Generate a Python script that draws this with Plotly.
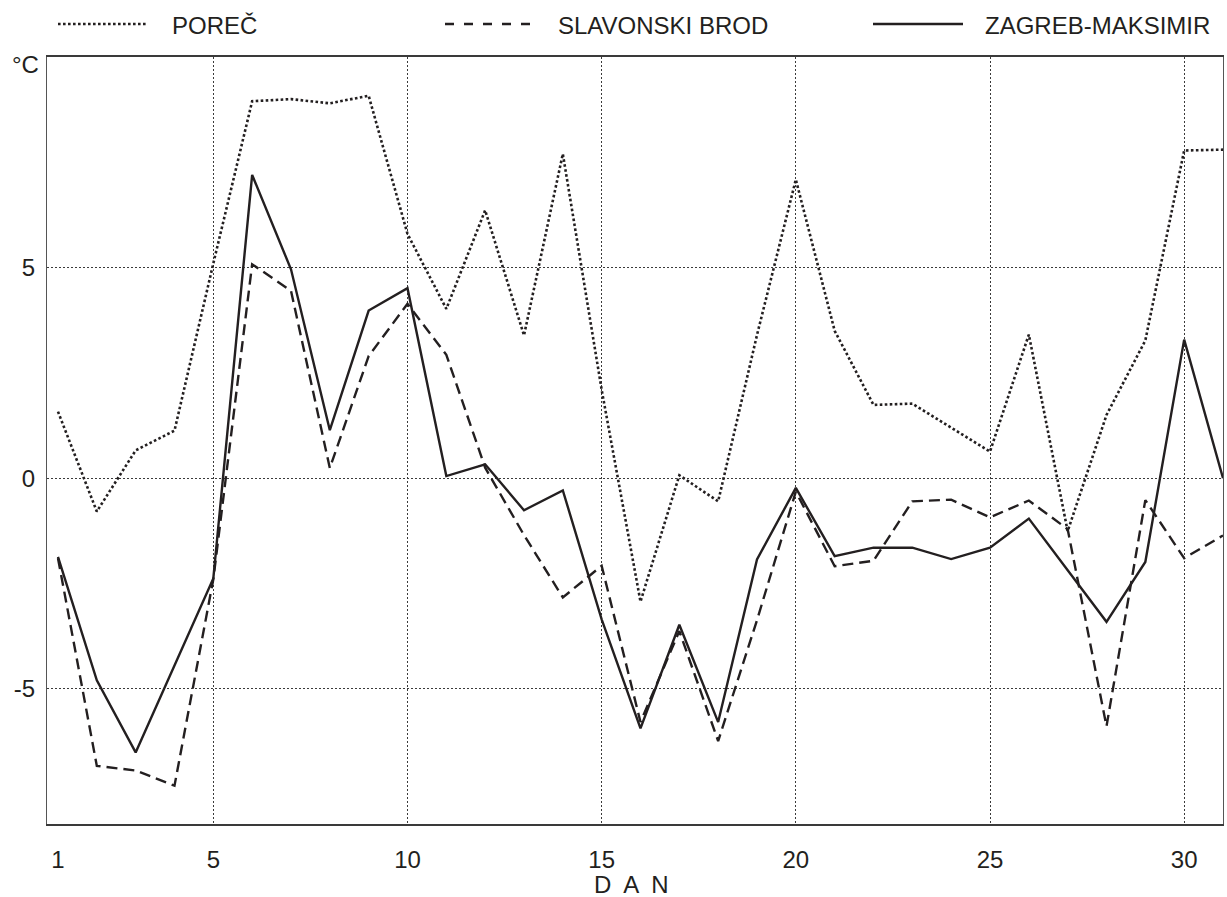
import plotly.graph_objects as go

# ---- data ----
days = list(range(1, 32))
porec = [1.58, -0.79, 0.66, 1.13, 5.1, 8.95, 9.0, 8.9, 9.08, 5.8,
         4.02, 6.36, 3.39, 7.70, 2.1, -2.93, 0.07, -0.55, 3.4, 7.09,
         3.5, 1.74, 1.77, 1.2, 0.63, 3.41, -1.26, 1.5, 3.27, 7.78, 7.8]
slavonski_brod = [-1.9, -6.83, -6.94, -7.30, -2.4, 5.08, 4.45, 0.24, 2.9, 4.14,
                  2.93, 0.25, -1.35, -2.83, -2.08, -5.79, -3.63, -6.24, -3.37, -0.32,
                  -2.09, -1.96, -0.55, -0.51, -0.93, -0.53, -1.21, -5.89, -0.52, -1.90, -1.36]
zagreb_maksimir = [-1.87, -4.80, -6.51, -4.45, -2.38, 7.20, 4.96, 1.14, 3.98, 4.51,
                   0.05, 0.33, -0.76, -0.29, -3.35, -5.94, -3.48, -5.79, -1.93, -0.23,
                   -1.85, -1.65, -1.65, -1.92, -1.65, -0.96, -2.2, -3.41, -1.99, 3.29, 0.0]

series_names = ["POREČ", "SLAVONSKI BROD", "ZAGREB-MAKSIMIR"]
x_tick_vals = [1, 5, 10, 15, 20, 25, 30]
x_grid_vals = [5, 10, 15, 20, 25, 30]
y_tick_vals = [-5, 0, 5]
y_tick_text = ["-5", "0", "5"]
x_title = "D\u2002A\u2002N"
y_unit = "°C"

# ---- styles ----
INK = "#231f20"
FONT = "Liberation Sans, Arial, Helvetica, sans-serif"
W, H = 1227, 897
# target plot box in page pixels: left 47, right 1223, top 57, bottom 824
ML, MT = 47, 57
MR = W - 1223
MB = H - 824
styles = [
    dict(color=INK, width=2.6, dash="2.6px,2.4px"),
    dict(color=INK, width=2.4, dash="11px,6px"),
    dict(color=INK, width=2.4, dash="solid"),
]

fig = go.Figure()
# invisible trace on the grid axis so it is rendered (drawn first, below data)
fig.add_trace(go.Scatter(x=[days[0]], y=[0], xaxis="x2", mode="markers",
                         marker=dict(opacity=0), showlegend=False, hoverinfo="skip"))
for name, vals, st in zip(series_names, [porec, slavonski_brod, zagreb_maksimir], styles):
    fig.add_trace(go.Scatter(x=days, y=vals, mode="lines", name=name,
                             line=st, showlegend=False))

xr = [0.717, 31]
yr = [-8.21, 10]

fig.update_layout(
    width=W, height=H,
    margin=dict(l=ML, r=MR, t=MT, b=MB),
    paper_bgcolor="white", plot_bgcolor="white",
    font=dict(family=FONT, size=24, color=INK),
    xaxis=dict(range=xr, tickvals=x_tick_vals, ticktext=[str(v) for v in x_tick_vals],
               showgrid=False, zeroline=False, ticks="", ticklabelstandoff=13,
               showline=True, linecolor="#3a3a3a", linewidth=1.5, mirror=True,
               tickfont=dict(size=24, family=FONT, color=INK)),
    xaxis2=dict(range=xr, overlaying="x", tickvals=x_grid_vals, showticklabels=False,
                showgrid=True, gridcolor="#3a3a3a", gridwidth=1, griddash="2px,2px",
                zeroline=False, ticks="", showline=False),
    yaxis=dict(range=yr, tickvals=y_tick_vals, ticktext=y_tick_text,
               showgrid=True, gridcolor="#3a3a3a", gridwidth=1, griddash="2px,2px",
               zeroline=False, ticks="", ticklabelstandoff=6,
               showline=True, linecolor="#555555", linewidth=1.2, mirror=True,
               tickfont=dict(size=24, family=FONT, color=INK)),
)


def px_x(px):
    return (px - ML) / (W - ML - MR)


def px_y(py):
    return (H - MB - py) / (H - MT - MB)


# manual legend across the top (page pixel positions)
legend_items = [(58, 148, 170), (445, 535, 556), (873, 963, 983)]
leg_dashes = ["2.6px,2.4px", "9px,10px", "solid"]
for (x0, x1, xt), name, st, dsh in zip(legend_items, series_names, styles, leg_dashes):
    fig.add_shape(type="line", xref="paper", yref="paper",
                  x0=px_x(x0), x1=px_x(x1), y0=px_y(24), y1=px_y(24),
                  line=dict(color=INK, width=st["width"], dash=dsh))
    fig.add_annotation(xref="paper", yref="paper", x=px_x(xt), y=px_y(25),
                       xanchor="left", yanchor="middle", text=name, showarrow=False,
                       font=dict(size=24, family=FONT, color=INK))

# unit label and axis title
fig.add_annotation(xref="paper", yref="paper", x=px_x(41), y=px_y(64),
                   xanchor="right", yanchor="middle", text=y_unit, showarrow=False,
                   font=dict(size=24, family=FONT, color=INK))
fig.add_annotation(xref="paper", yref="paper", x=px_x(631), y=px_y(885),
                   xanchor="center", yanchor="middle", text=x_title, showarrow=False,
                   font=dict(size=24, family=FONT, color=INK))

fig.write_html(
    "out.html",
    config={"displayModeBar": False},
    post_script="document.body.style.margin='0';document.body.style.overflow='hidden';",
)
